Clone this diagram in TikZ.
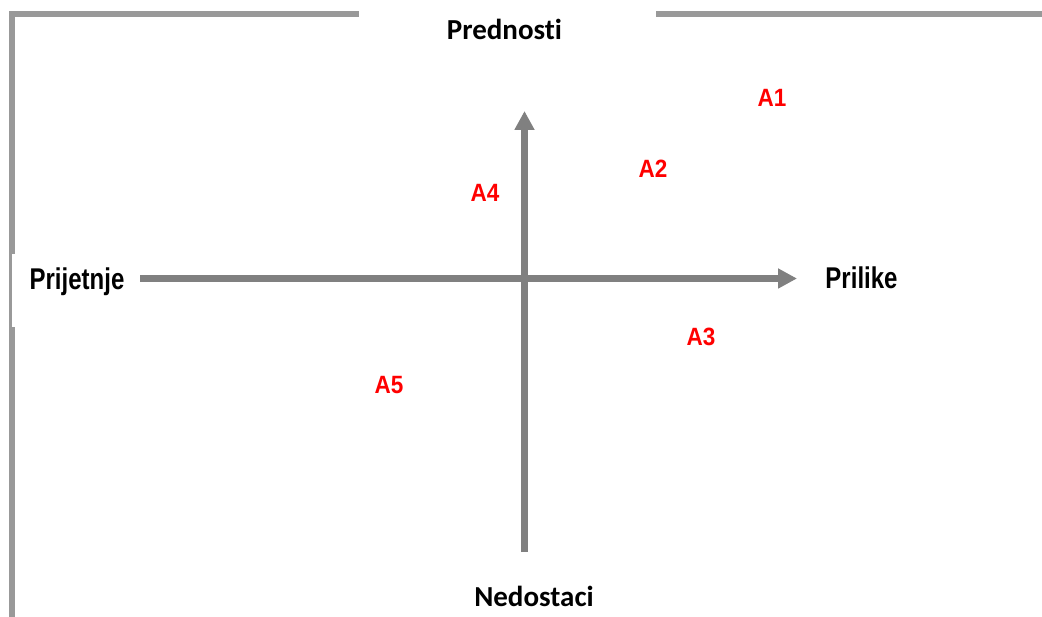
\documentclass[tikz,border=0pt]{standalone}
\usepackage{fontspec}
\setmainfont{Liberation Sans}
\newfontfamily\calfont[Ligatures={NoCommon}]{Carlito}
\usetikzlibrary{arrows.meta}
\definecolor{framegray}{HTML}{999999}
\definecolor{axisgray}{HTML}{808080}
\begin{document}
\begin{tikzpicture}[x=1pt,y=-1pt,
  frameline/.style={framegray,line width=6pt},
  axisline/.style={axisgray,line width=6.5pt,-{Triangle[width=19pt,length=19pt]}},
  titlelabel/.style={font=\calfont\bfseries\fontsize{29}{31}\selectfont,anchor=base,inner sep=0pt},
  sidelabel/.style={font=\bfseries\fontsize{30}{32}\selectfont,anchor=base,inner sep=0pt},
  alabel/.style={font=\bfseries\fontsize{25}{27}\selectfont,text=red,anchor=base,inner sep=0pt}]
\useasboundingbox[fill=white] (0,0) rectangle (1042,617);
% frame
\coordinate (fl1) at (9,14.5);
\coordinate (fl2) at (359,14.5);
\coordinate (fr1) at (656,14.5);
\coordinate (fr2) at (1042,14.5);
\coordinate (lv1) at (12,11.5);
\coordinate (lv2) at (12,617);
\draw[frameline] (fl1) -- (fl2);
\draw[frameline] (fr1) -- (fr2);
\draw[frameline] (lv1) -- (lv2);
\fill[white] (12,254) rectangle (135,327);
% axes
\coordinate (hstart) at (140,278.5);
\coordinate (hend) at (797,278.5);
\coordinate (vstart) at (524.5,552);
\coordinate (vend) at (524.5,111);
\draw[axisline] (hstart) -- (hend);
\draw[axisline] (vstart) -- (vend);
% labels
\node[titlelabel] (pred) at (504.5,40) {Prednosti};
\node[titlelabel] (ned) at (534,606) {Nedostaci};
\node[sidelabel] (prij) at (77,290) {\scalebox{0.8}[1]{Prijetnje}};
\node[sidelabel] (pril) at (861.5,289) {\scalebox{0.8}[1]{Prilike}};
\node[alabel] (a1) at (772,107) {\scalebox{0.9}[1]{A1}};
\node[alabel] (a2) at (653,178) {\scalebox{0.9}[1]{A2}};
\node[alabel] (a3) at (701,346) {\scalebox{0.9}[1]{A3}};
\node[alabel] (a4) at (485,202) {\scalebox{0.9}[1]{A4}};
\node[alabel] (a5) at (389,394) {\scalebox{0.9}[1]{A5}};
\end{tikzpicture}
\end{document}
